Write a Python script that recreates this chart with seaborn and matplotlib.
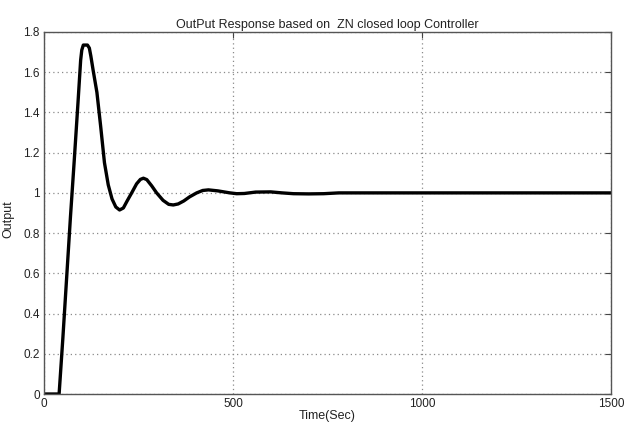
import matplotlib
matplotlib.use("Agg")
import matplotlib.pyplot as plt
import seaborn as sns
import pandas as pd

# Closed-loop step response with a Ziegler-Nichols tuned controller
time_sec = [0, 40, 45, 50, 55, 60, 70, 80, 90, 97, 100, 104, 115, 120, 124,
            130, 140, 150, 160, 170, 180, 190, 200, 210, 220, 232, 245, 255,
            263, 272, 285, 298, 315, 330, 342, 355, 370, 385, 404, 420, 435,
            460, 492, 510, 530, 560, 600, 630, 660, 700, 740, 780, 1500]
output = [0, 0, 0.14, 0.28, 0.43, 0.58, 0.88, 1.16, 1.45, 1.66, 1.71, 1.735,
          1.735, 1.72, 1.68, 1.61, 1.50, 1.33, 1.15, 1.04, 0.97, 0.93, 0.915,
          0.925, 0.96, 1.0, 1.045, 1.067, 1.073, 1.066, 1.035, 1.0, 0.963,
          0.943, 0.94, 0.945, 0.96, 0.98, 1.0, 1.012, 1.015, 1.01, 1.0, 0.996,
          0.997, 1.004, 1.005, 1.0, 0.996, 0.995, 0.996, 1.0, 1.0]

x_ticks = [0, 500, 1000, 1500]
y_ticks = [0, 0.2, 0.4, 0.6, 0.8, 1.0, 1.2, 1.4, 1.6, 1.8]
y_tick_labels = ["0", "0.2", "0.4", "0.6", "0.8", "1", "1.2", "1.4", "1.6", "1.8"]

sns.set_style("white")
plt.rcParams["font.family"] = ["Liberation Sans", "DejaVu Sans"]

df = pd.DataFrame({"Time(Sec)": time_sec, "Output": output})

fig = plt.figure(figsize=(6.24, 4.30), dpi=100)
ax = fig.add_axes([0.0705, 0.0837, 0.9085, 0.8419])

sns.lineplot(data=df, x="Time(Sec)", y="Output", ax=ax, color="black",
             linewidth=2.4, sort=False)

ax.set_xlim(0, 1500)
ax.set_ylim(0, 1.8)
ax.set_xticks(x_ticks)
ax.set_xticklabels([str(v) for v in x_ticks])
ax.set_yticks(y_ticks)
ax.set_yticklabels(y_tick_labels)

ax.grid(True, color="#8a8a8a", linestyle=(0, (1, 2.5)), linewidth=0.9)
ax.tick_params(direction="in", length=4, width=0.8, colors="#444444",
               labelcolor="#222222", labelsize=8.5, top=True, right=True,
               pad=3)
for spine in ax.spines.values():
    spine.set_color("#555555")
    spine.set_linewidth(1.0)

ax.set_title("OutPut Response based on  ZN closed loop Controller",
             fontsize=9, color="#222222", pad=3)
ax.set_xlabel("Time(Sec)", fontsize=9, color="#222222", labelpad=0)
ax.set_ylabel("")
fig.text(0.004, 0.49, "Output", rotation=90, fontsize=9, color="#222222",
         ha="left", va="center")

fig.savefig("out.png", dpi=100, facecolor="white")
